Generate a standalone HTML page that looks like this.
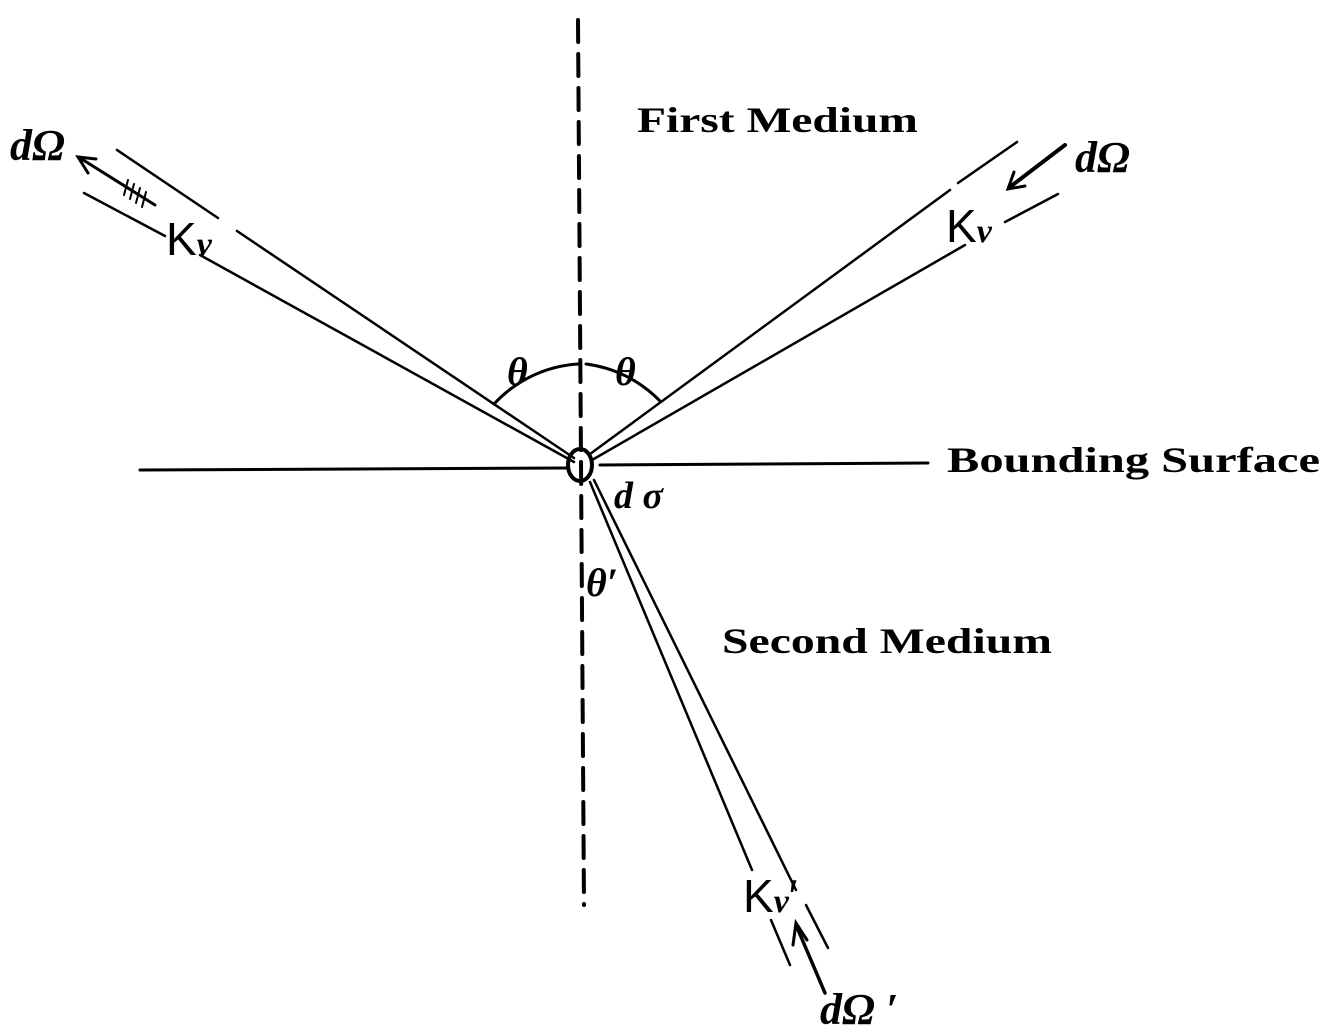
<!DOCTYPE html>
<html><head><meta charset="utf-8"><style>
html,body{margin:0;padding:0;background:#fff;}
svg{display:block;}
.t{font-family:"Liberation Serif",serif;font-weight:bold;fill:#000;}
.i{font-family:"Liberation Serif",serif;font-style:italic;font-weight:bold;fill:#000;}
.k{font-family:"Liberation Sans",sans-serif;fill:#000;}
</style></head><body>
<svg width="1338" height="1036" viewBox="0 0 1338 1036" xmlns="http://www.w3.org/2000/svg">
<g stroke="#000" fill="none" stroke-linecap="round">
<line x1="578" y1="20" x2="584" y2="905" stroke-width="4" stroke-dasharray="22,12"/>
<line x1="140" y1="470" x2="568" y2="468" stroke-width="3"/>
<line x1="600" y1="465" x2="928" y2="463" stroke-width="3"/>
<line x1="117" y1="150" x2="218" y2="218" stroke-width="2.5"/>
<line x1="237" y1="231" x2="574" y2="458" stroke-width="2.5"/>
<line x1="84" y1="193" x2="165" y2="236" stroke-width="2.5"/>
<line x1="200" y1="255" x2="574" y2="462" stroke-width="2.5"/>
<line x1="155" y1="205" x2="80" y2="158" stroke-width="3"/>
<polyline points="96,159 78,157 88,173" stroke-width="3"/>
<g stroke-width="2"><line x1="128" y1="180" x2="124" y2="195"/><line x1="134" y1="184" x2="130" y2="199"/><line x1="140" y1="188" x2="136" y2="203"/><line x1="146" y1="192" x2="142" y2="207"/></g>
<line x1="590" y1="454" x2="950" y2="190" stroke-width="2.5"/>
<line x1="958" y1="183" x2="1017" y2="142" stroke-width="2.5"/>
<line x1="592" y1="460" x2="965" y2="245" stroke-width="2.5"/>
<line x1="1005" y1="222" x2="1058" y2="194" stroke-width="2.5"/>
<line x1="1065" y1="145" x2="1010" y2="187" stroke-width="4"/>
<polyline points="1014,172 1008,189 1025,186" stroke-width="3"/>
<line x1="590" y1="482" x2="752" y2="870" stroke-width="2.5"/>
<line x1="771" y1="920" x2="790" y2="965" stroke-width="2.5"/>
<line x1="594" y1="480" x2="796" y2="890" stroke-width="2.5"/>
<line x1="806" y1="905" x2="828" y2="948" stroke-width="2.5"/>
<line x1="825" y1="993" x2="796" y2="925" stroke-width="3.5"/>
<polyline points="793,945 796,923 807,940" stroke-width="3"/>
<path d="M494,404 A125,125 0 0 1 578,364" stroke-width="3"/>
<path d="M586,364 A125,125 0 0 1 660,401" stroke-width="3"/>
<ellipse cx="580" cy="465" rx="12" ry="16" stroke-width="4"/>
</g>
<text class="t" x="637" y="132" font-size="36" textLength="281" lengthAdjust="spacingAndGlyphs">First Medium</text>
<text class="t" x="947" y="472" font-size="36" textLength="373" lengthAdjust="spacingAndGlyphs">Bounding Surface</text>
<text class="t" x="722" y="653" font-size="36" textLength="330" lengthAdjust="spacingAndGlyphs">Second Medium</text>
<text class="i" x="10" y="160" font-size="44">dΩ</text>
<text class="i" x="1075" y="172" font-size="44">dΩ</text>
<text class="i" x="820" y="1024" font-size="44">dΩ ′</text>
<text class="i" x="507" y="385" font-size="40">θ</text>
<text class="i" x="615" y="385" font-size="40">θ</text>
<text class="i" x="614" y="508" font-size="38">d σ</text>
<text class="i" x="586" y="596" font-size="40">θ′</text>
<text class="k" x="166" y="255" font-size="46">K<tspan class="i" font-size="34" font-family="Liberation Serif">ν</tspan></text>
<text class="k" x="946" y="242" font-size="46">K<tspan class="i" font-size="34" font-family="Liberation Serif">ν</tspan></text>
<text class="k" x="743" y="912" font-size="46">K<tspan class="i" font-size="34" font-family="Liberation Serif">ν</tspan>′</text>
</svg>
</body></html>
